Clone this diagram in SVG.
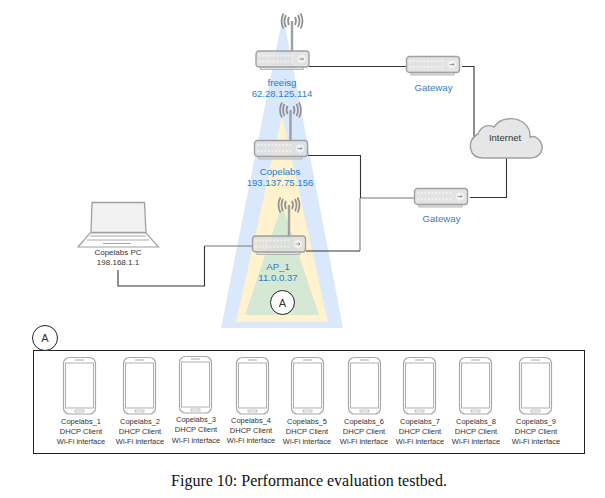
<svg xmlns="http://www.w3.org/2000/svg" xmlns:xlink="http://www.w3.org/1999/xlink" width="605" height="498" viewBox="0 0 605 498">
<style>
text{font-family:"Liberation Sans",Arial,sans-serif;text-anchor:middle}
.blue{font-size:9.600px;fill:#2b7bd0}
.gw{font-size:9.600px;fill:#3a78c2}
.lab{font-size:8px;fill:#333}
.ph{font-size:7.500px;fill:#333}
.c{fill:none;stroke:#333;stroke-width:1.100}
.cg{fill:none;stroke:#777;stroke-width:1.100}
.circ{fill:#fff;stroke:#222;stroke-width:1}
</style>
<defs>
<symbol id="router" overflow="visible">
<rect x="5" y="16" width="43" height="3" fill="#ddd" fill-opacity=".85" stroke="#aaa" stroke-width=".8"/>
<rect x="0.500" y="0.500" width="53" height="16" rx="3" fill="#dcdcdc" fill-opacity=".8" stroke="#a0a0a0" stroke-width="1.400"/>
<g fill="none" stroke="#f4f4f4" stroke-width="2" stroke-dasharray="2 1.600" opacity=".8"><path d="M3 5H38M3 11H38"/></g>
<circle cx="46" cy="8.500" r="4" fill="#f6f6f6" fill-opacity=".8"/>
<path d="M43.500 8.500H48M46.500 7L48 8.500L46.500 10" fill="none" stroke="#777" stroke-width=".7"/>
</symbol>
<symbol id="antenna" overflow="visible">
<path d="M0 0V31" stroke="#a0a0a0" stroke-width="2.400" fill="none"/>
<g fill="none" stroke="#909090" stroke-width="1.700">
<path d="M-3 -4Q-5 0 -3 4M3 -4Q5 0 3 4M-6 -6Q-9 0 -6 6M6 -6Q9 0 6 6M-8.500 -7.500Q-12.500 0 -8.500 7.500M8.500 -7.500Q12.500 0 8.500 7.500"/>
</g>
</symbol>
<symbol id="phone" overflow="visible">
<rect x="0.500" y="0.500" width="32" height="56.500" rx="6" fill="#fff" stroke="#a8a8a8" stroke-width="1.200"/>
<rect x="2.500" y="6" width="28" height="45" fill="#fff" stroke="#a8a8a8" stroke-width=".9"/>
<rect x="12" y="53" width="9" height="2" fill="#fff" stroke="#a8a8a8" stroke-width=".7"/>
<path d="M12 3H21" stroke="#a8a8a8" stroke-width="1"/>
</symbol>
</defs>

<g id="coverage">
<polygon points="283,15 343,328 221,328" fill="#dae8fc"/>
<polygon points="282,115 328,322 236,322" fill="#fff2cc"/>
<polygon points="282,205 319,315 245,315" fill="#d5e8d4"/>
</g>

<g id="connectors">
<path class="c" d="M309 66.500H406"/>
<path class="c" d="M462 66.500H474V137"/>
<path class="c" d="M506.500 158V197.500H470"/>
<path class="cg" d="M414 198H360.500"/>
<path class="c" d="M308 155.500H360.500V198"/>
<path class="cg" d="M360 198V251"/>
<path class="c" d="M306 251H360"/>
<path class="cg" d="M252 246H204.500"/>
<path class="c" d="M204.500 246V286H118V270"/>
</g>

<g id="freeisg">
<use href="#antenna" x="292" y="21"/>
<use href="#router" x="255.500" y="50.500"/>
<text class="blue" x="282" y="86">freeisg</text>
<text class="blue" x="282" y="96.500">62.28.125.114</text>
</g>
<g id="copelabs">
<use href="#antenna" x="290.500" y="110"/>
<use href="#router" x="254" y="140"/>
<text class="blue" x="280" y="175">Copelabs</text>
<text class="blue" x="280" y="185.500">193.137.75.156</text>
</g>
<g id="ap1">
<use href="#antenna" x="289" y="205"/>
<use href="#router" x="252" y="235.500"/>
<text class="blue" x="278" y="270">AP_1</text>
<text class="blue" x="278" y="281">11.0.0.37</text>
</g>
<g id="marker-a">
<circle class="circ" cx="282.500" cy="302.500" r="12"/>
<text x="282.500" y="306.500" font-size="11" fill="#333">A</text>
</g>
<g id="gateway-1">
<use href="#router" x="406" y="56"/>
<text class="gw" x="433.500" y="91">Gateway</text>
</g>
<g id="gateway-2">
<use href="#router" x="414" y="188"/>
<text class="gw" x="441.500" y="222">Gateway</text>
</g>
<g id="internet">
<path d="M484 158H530C541 158 545 148 540 141C537 137 533 136 530 137C531 125 519 117 507 119C499 120 496 124 494 127C488 124 481 126 478 134C472 137 469 143 471 150C472 155 477 158 484 158Z" fill="#e6e6e6" stroke="#a0a0a0" stroke-width="1.400"/>
<text x="505" y="141" font-size="9.500" fill="#333">Internet</text>
</g>
<g id="laptop">
<path d="M91 232.500L92 202.500H144.500L146 232.500Z" fill="#f2f2f2" stroke="#a0a0a0" stroke-width="1.300"/>
<path d="M90 233H146L158.500 247H78Z" fill="#fff" stroke="#a0a0a0" stroke-width="1.200"/>
<path d="M90 236H146M87 240H149M103 243.500H131" stroke="#a8a8a8" stroke-width="1" fill="none"/>
<text class="lab" x="118" y="255">Copelabs PC</text>
<text class="lab" x="118" y="265">198.168.1.1</text>
</g>

<g id="group-a">
<rect x="33.500" y="350.500" width="551" height="103" fill="none" stroke="#222" stroke-width="1"/>
<circle class="circ" cx="45" cy="338" r="12.500"/>
<text x="45" y="342" font-size="11" fill="#333">A</text>
</g>

<g id="phone-1"><use href="#phone" x="63" y="357"/><text class="ph" x="81" y="424">Copelabs_1</text><text class="ph" x="81" y="434">DHCP Client</text><text class="ph" x="81" y="444">Wi-Fi interface</text></g>
<g id="phone-2"><use href="#phone" x="123" y="357"/><text class="ph" x="140" y="424">Copelabs_2</text><text class="ph" x="140" y="434">DHCP Client</text><text class="ph" x="140" y="444">Wi-Fi interface</text></g>
<g id="phone-3"><use href="#phone" x="179" y="356"/><text class="ph" x="196" y="422">Copelabs_3</text><text class="ph" x="196" y="432">DHCP Client</text><text class="ph" x="196" y="443">Wi-Fi interface</text></g>
<g id="phone-4"><use href="#phone" x="236" y="357"/><text class="ph" x="251" y="423">Copelabs_4</text><text class="ph" x="251" y="433">DHCP Client</text><text class="ph" x="251" y="443">Wi-Fi interface</text></g>
<g id="phone-5"><use href="#phone" x="291" y="357"/><text class="ph" x="307" y="424">Copelabs_5</text><text class="ph" x="307" y="434">DHCP Client</text><text class="ph" x="307" y="444">Wi-Fi interface</text></g>
<g id="phone-6"><use href="#phone" x="348" y="357"/><text class="ph" x="364" y="424">Copelabs_6</text><text class="ph" x="364" y="434">DHCP Client</text><text class="ph" x="364" y="444">Wi-Fi interface</text></g>
<g id="phone-7"><use href="#phone" x="403" y="357"/><text class="ph" x="420" y="424">Copelabs_7</text><text class="ph" x="420" y="434">DHCP Client</text><text class="ph" x="420" y="444">Wi-Fi interface</text></g>
<g id="phone-8"><use href="#phone" x="459" y="357"/><text class="ph" x="476" y="424">Copelabs_8</text><text class="ph" x="476" y="434">DHCP Client</text><text class="ph" x="476" y="444">Wi-Fi interface</text></g>
<g id="phone-9"><use href="#phone" x="519" y="357"/><text class="ph" x="536" y="424">Copelabs_9</text><text class="ph" x="536" y="434">DHCP Client</text><text class="ph" x="536" y="444">Wi-Fi interface</text></g>

<text x="309" y="486" font-size="16" fill="#111" style="font-family:'Liberation Serif','Times New Roman',serif">Figure 10: Performance evaluation testbed.</text>
</svg>
